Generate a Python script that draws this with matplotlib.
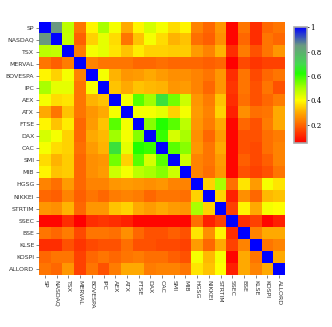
import numpy as np
import matplotlib
matplotlib.use('Agg')
import matplotlib.pyplot as plt
from matplotlib.colors import LinearSegmentedColormap

names = ['SP', 'NASDAQ', 'TSX', 'MERVAL', 'BOVESPA', 'IPC', 'AEX', 'ATX', 'FTSE', 'DAX',
         'CAC', 'SMI', 'MIB', 'HGSG', 'NIKKEI', 'STRTIM', 'SSEC', 'BSE', 'KLSE', 'KOSPI', 'ALLORD']

# upper triangle of the correlation matrix, row by row (from the diagonal on)
upper = [
    [1, 0.85, 0.48, 0.22, 0.39, 0.50, 0.41, 0.30, 0.39, 0.45, 0.41, 0.36, 0.39, 0.24, 0.20, 0.27, 0.06, 0.22, 0.12, 0.20, 0.22],
    [1, 0.47, 0.19, 0.35, 0.43, 0.36, 0.22, 0.33, 0.41, 0.36, 0.31, 0.33, 0.21, 0.19, 0.26, 0.06, 0.20, 0.12, 0.22, 0.20],
    [1, 0.23, 0.41, 0.43, 0.37, 0.33, 0.38, 0.35, 0.35, 0.34, 0.34, 0.28, 0.24, 0.31, 0.12, 0.23, 0.17, 0.22, 0.27],
    [1, 0.24, 0.22, 0.22, 0.22, 0.20, 0.20, 0.21, 0.20, 0.20, 0.20, 0.19, 0.20, 0.05, 0.16, 0.13, 0.15, 0.15],
    [1, 0.41, 0.31, 0.27, 0.28, 0.30, 0.28, 0.26, 0.26, 0.24, 0.22, 0.27, 0.12, 0.22, 0.16, 0.20, 0.22],
    [1, 0.33, 0.30, 0.33, 0.32, 0.31, 0.27, 0.28, 0.24, 0.20, 0.27, 0.13, 0.22, 0.17, 0.22, 0.17],
    [1, 0.41, 0.57, 0.51, 0.68, 0.55, 0.46, 0.27, 0.23, 0.33, 0.12, 0.21, 0.17, 0.20, 0.23],
    [1, 0.41, 0.41, 0.43, 0.35, 0.41, 0.28, 0.24, 0.35, 0.10, 0.26, 0.21, 0.22, 0.30],
    [1, 0.53, 0.62, 0.57, 0.48, 0.27, 0.23, 0.30, 0.06, 0.20, 0.17, 0.23, 0.30],
    [1, 0.60, 0.45, 0.50, 0.26, 0.20, 0.28, 0.06, 0.17, 0.17, 0.21, 0.23],
    [1, 0.57, 0.53, 0.27, 0.22, 0.30, 0.06, 0.17, 0.16, 0.21, 0.24],
    [1, 0.46, 0.24, 0.22, 0.28, 0.06, 0.19, 0.16, 0.19, 0.24],
    [1, 0.24, 0.21, 0.27, 0.06, 0.17, 0.15, 0.17, 0.22],
    [1, 0.35, 0.50, 0.21, 0.37, 0.28, 0.41, 0.37],
    [1, 0.35, 0.10, 0.26, 0.20, 0.32, 0.33],
    [1, 0.15, 0.39, 0.30, 0.41, 0.40],
    [1, 0.12, 0.15, 0.06, 0.10],
    [1, 0.24, 0.30, 0.30],
    [1, 0.22, 0.24],
    [1, 0.30],
    [1],
]

n = len(names)
corr = np.zeros((n, n))
for i, row in enumerate(upper):
    for k, v in enumerate(row):
        corr[i, i + k] = v
        corr[i + k, i] = v

vmin, vmax = 0.05, 1.0
stops = [(0.05, '#ff0000'), (0.15, '#ff4400'), (0.22, '#ff7700'), (0.30, '#ffaa00'),
         (0.40, '#ffff00'), (0.50, '#aaff00'), (0.62, '#22ff00'), (0.70, '#44d850'),
         (0.85, '#6a9a80'), (1.00, '#0000ff')]
cmap = LinearSegmentedColormap.from_list(
    'corr', [((v - vmin) / (vmax - vmin), c) for v, c in stops])

fig = plt.figure(figsize=(3.32, 3.27), dpi=100)
ax = fig.add_axes([0.118, 0.159, 0.740, 0.775])
im = ax.imshow(corr, cmap=cmap, vmin=vmin, vmax=vmax, aspect='auto', interpolation='nearest')
ax.set_xticks(range(n))
ax.set_yticks(range(n))
ax.set_xticklabels(names, rotation=270, fontsize=4.5, color='#333333')
ax.set_yticklabels(names, fontsize=4.5, color='#333333')
ax.tick_params(length=2, width=0.5, color='#555555', pad=1.5)
for s in ax.spines.values():
    s.set_visible(False)

cax = fig.add_axes([0.886, 0.563, 0.039, 0.354])
cb = fig.colorbar(im, cax=cax, ticks=[0.2, 0.4, 0.6, 0.8, 1.0])
cb.ax.set_yticklabels(['0.2', '0.4', '0.6', '0.8', '1'], fontsize=5, family='DejaVu Serif')
cb.ax.tick_params(length=1.5, width=0.5, pad=1)
cb.outline.set_edgecolor('#aaaaaa')
cb.outline.set_linewidth(1.2)

fig.savefig('out.png', dpi=100)
